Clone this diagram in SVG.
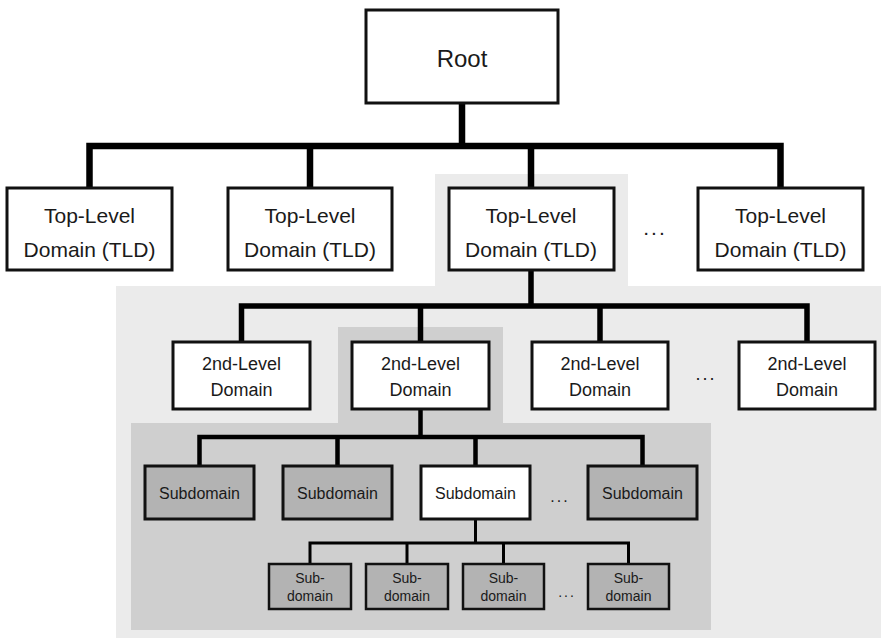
<svg xmlns="http://www.w3.org/2000/svg" width="881" height="641" viewBox="0 0 881 641">
<style>
.box{fill:#fff;stroke:#111;stroke-width:3}
.gbox{fill:#b3b3b3;stroke:#111;stroke-width:3}
.sbox{fill:#b3b3b3;stroke:#111;stroke-width:2.5}
.wsbox{fill:#fff;stroke:#111;stroke-width:3}
text{font-family:"Liberation Sans",Arial,sans-serif;fill:#1a1a1a;text-anchor:middle}
.t1{font-size:24px}
.t2{font-size:21px}
.t3{font-size:18px}
.t4{font-size:16px}
.t5{font-size:14px}
.dots{letter-spacing:2px}
.c{fill:none;stroke:#000;stroke-linejoin:miter;stroke-linecap:butt}
</style>
<rect width="881" height="641" fill="#fff"/>
<g id="regions">
<polygon points="435,174 628,174 628,286 881,286 881,638 116,638 116,286 435,286" fill="#ebebeb"/>
<polygon points="338,327 503,327 503,423 711,423 711,630 131,630 131,423 338,423" fill="#cfcfcf"/>
</g>
<g id="connectors">
<path class="c" stroke-width="6.5" d="M462,103 V146 M89.5,188 V146 H780.5 V188 M310,146 V188 M531,146 V188"/>
<path class="c" stroke-width="5.5" d="M531,270 V306 M241.5,342 V306 H807 V342 M420.5,306 V342 M600,306 V342"/>
<path class="c" stroke-width="4.5" d="M420.5,409 V437 M199.5,466 V437 H642.5 V466 M337.5,437 V466 M475.5,437 V466"/>
<path class="c" stroke-width="3" d="M475.5,519 V543 M310,564 V543 H628.5 V564 M407,543 V564 M503.5,543 V564"/>
</g>
<g id="root"><rect class="box" x="366" y="10" width="192" height="93"/><text class="t1" x="462" y="67">Root</text></g>
<g id="tld1"><rect class="box" x="7" y="188" width="165" height="82"/><text class="t2" x="89.5" y="223">Top-Level</text><text class="t2" x="89.5" y="257">Domain (TLD)</text></g>
<g id="tld2"><rect class="box" x="228" y="188" width="164" height="82"/><text class="t2" x="310" y="223">Top-Level</text><text class="t2" x="310" y="257">Domain (TLD)</text></g>
<g id="tld3"><rect class="box" x="449" y="188" width="165" height="82"/><text class="t2" x="531" y="223">Top-Level</text><text class="t2" x="531" y="257">Domain (TLD)</text></g>
<g id="tld-dots"><text class="t2 dots" x="655" y="235">...</text></g>
<g id="tld4"><rect class="box" x="698" y="188" width="165" height="82"/><text class="t2" x="780.5" y="223">Top-Level</text><text class="t2" x="780.5" y="257">Domain (TLD)</text></g>
<g id="sld1"><rect class="box" x="173" y="342" width="137" height="67"/><text class="t3" x="241.5" y="370">2nd-Level</text><text class="t3" x="241.5" y="396">Domain</text></g>
<g id="sld2"><rect class="box" x="352" y="342" width="137" height="67"/><text class="t3" x="420.5" y="370">2nd-Level</text><text class="t3" x="420.5" y="396">Domain</text></g>
<g id="sld3"><rect class="box" x="532" y="342" width="136" height="67"/><text class="t3" x="600" y="370">2nd-Level</text><text class="t3" x="600" y="396">Domain</text></g>
<g id="sld-dots"><text class="t3 dots" x="706" y="380">...</text></g>
<g id="sld4"><rect class="box" x="739" y="342" width="136" height="67"/><text class="t3" x="807" y="370">2nd-Level</text><text class="t3" x="807" y="396">Domain</text></g>
<g id="sub1"><rect class="gbox" x="145" y="466" width="109" height="53"/><text class="t4" x="199.5" y="499">Subdomain</text></g>
<g id="sub2"><rect class="gbox" x="283" y="466" width="109" height="53"/><text class="t4" x="337.5" y="499">Subdomain</text></g>
<g id="sub3"><rect class="wsbox" x="421" y="466" width="109" height="53"/><text class="t4" x="475.5" y="499">Subdomain</text></g>
<g id="sub-dots"><text class="t4 dots" x="560" y="502">...</text></g>
<g id="sub4"><rect class="gbox" x="588" y="466" width="109" height="53"/><text class="t4" x="642.5" y="499">Subdomain</text></g>
<g id="ss1"><rect class="sbox" x="269" y="564" width="82" height="45"/><text class="t5" x="310" y="583">Sub-</text><text class="t5" x="310" y="601">domain</text></g>
<g id="ss2"><rect class="sbox" x="366" y="564" width="82" height="45"/><text class="t5" x="407" y="583">Sub-</text><text class="t5" x="407" y="601">domain</text></g>
<g id="ss3"><rect class="sbox" x="463" y="564" width="81" height="45"/><text class="t5" x="503.5" y="583">Sub-</text><text class="t5" x="503.5" y="601">domain</text></g>
<g id="ss-dots"><text class="t5 dots" x="567" y="597">...</text></g>
<g id="ss4"><rect class="sbox" x="588" y="564" width="81" height="45"/><text class="t5" x="628.5" y="583">Sub-</text><text class="t5" x="628.5" y="601">domain</text></g>
</svg>
